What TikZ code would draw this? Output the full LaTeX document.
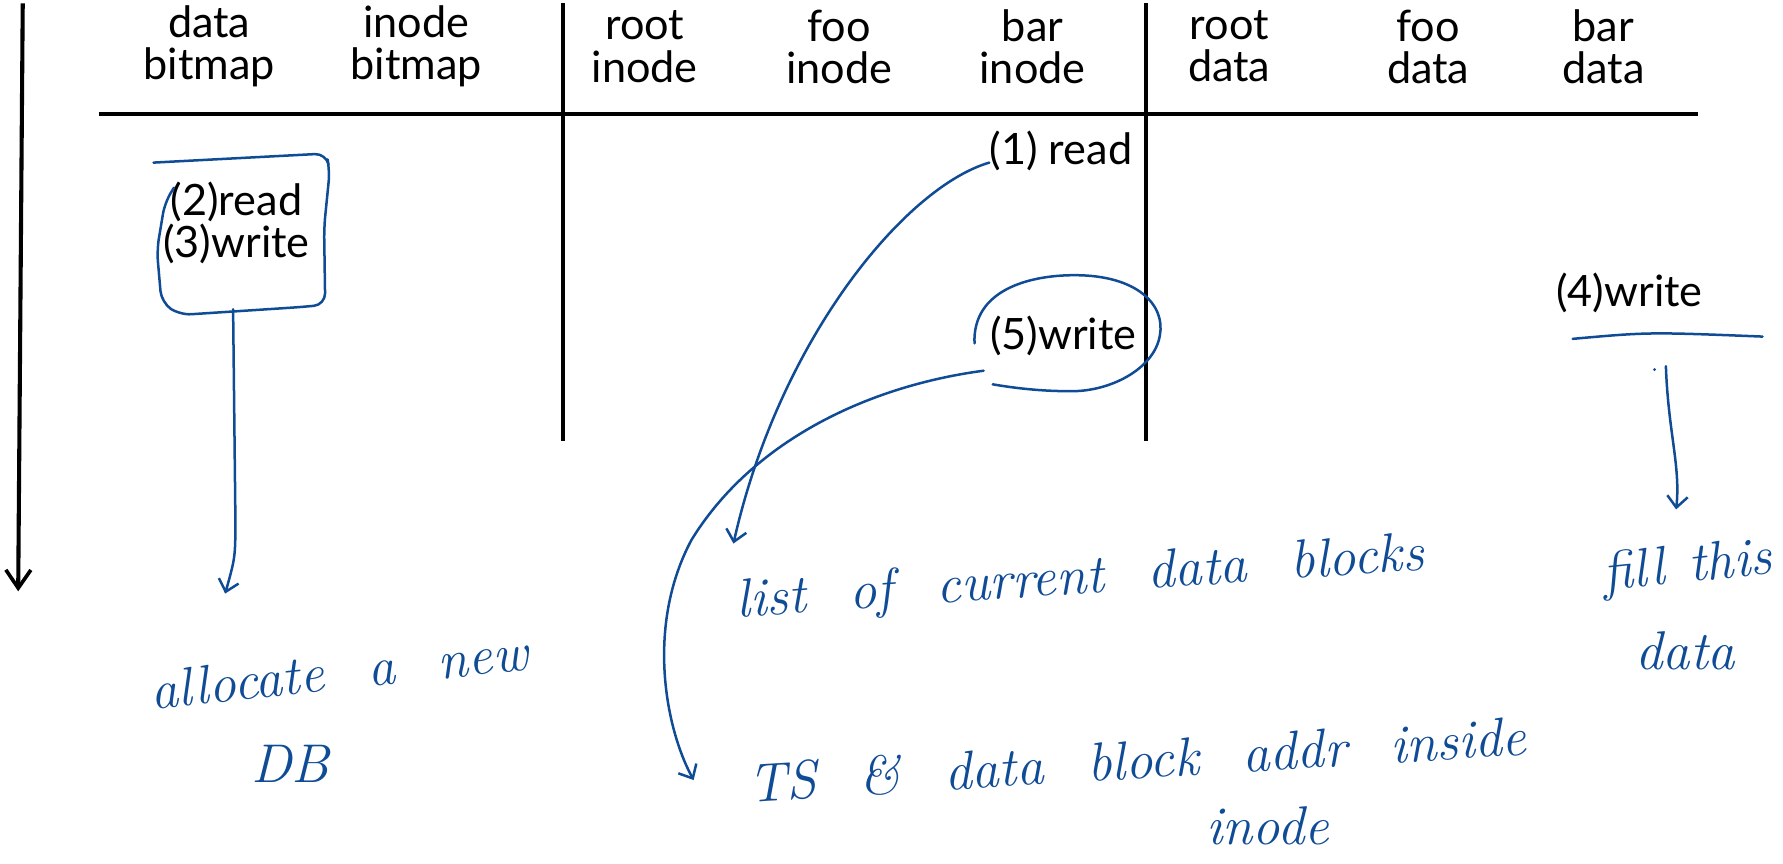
\documentclass[tikz,border=0pt]{standalone}
\usepackage{fontspec}
\newfontfamily\hdr{Lato}
\usetikzlibrary{arrows.meta}
\definecolor{ink}{RGB}{16,76,150}
\newcommand\wgap{\hspace{0.8em}}
\begin{document}
\begin{tikzpicture}[x=0.5pt,y=-0.5pt,
  hd/.style={font=\hdr\fontsize{19}{18.5}\selectfont, align=center, inner sep=0},
  lbl/.style={font=\hdr\fontsize{19}{18.5}\selectfont, inner sep=0},
  hw/.style={font=\itshape\fontsize{24}{26}\selectfont, text=ink, inner sep=0},
  rule/.style={line width=1.8pt, black},
  pen/.style={line width=1.1pt, draw=ink, line cap=round, line join=round},
  hand/.style={pen, -{Straight Barb[length=5pt,width=9pt]}}
]
\useasboundingbox (0,0) rectangle (1568,759);

% time axis and table rules
\coordinate (t0) at (20,3);
\coordinate (t1) at (16,520);
\draw[rule, -{Straight Barb[length=8pt,width=11pt,line width=1.6pt]}] (t0) -- (t1);
\coordinate (hl) at (87,100);
\coordinate (hr) at (1493,100);
\draw[rule] (hl) -- (hr);
\coordinate (d1t) at (495,3);  \coordinate (d1b) at (495,388);
\coordinate (d2t) at (1008,3); \coordinate (d2b) at (1008,388);
\draw[rule] (d1t) -- (d1b);
\draw[rule] (d2t) -- (d2b);

% headers
\node[hd] (h1) at (184,41) {data\\bitmap};
\node[hd] (h2) at (366,41) {inode\\bitmap};
\node[hd] (h3) at (567,41) {root\\inode};
\node[hd] (h4) at (738,41) {foo\\inode};
\node[hd] (h5) at (908,41) {bar\\inode};
\node[hd] (h6) at (1081,41) {root\\data};
\node[hd] (h7) at (1256,41) {foo\\data};
\node[hd] (h8) at (1410,41) {bar\\data};

% operation labels
\node[lbl] (op1) at (933,133) {(1) read};
\node[hd] (op23) at (208,196) {(2)read\\(3)write};
\node[lbl] (op5) at (935,295) {(5)write};
\node[lbl] (op4) at (1433,258) {(4)write};

% hand-drawn box around (2)/(3)
\draw[pen, rounded corners=5] (135,143) -- (287,135) -- (290,150) -- (285,200) -- (286,268) -- (265,270) -- (158,277) -- (142,266) -- (138,220) -- (145,178) -- (153,165);

% handwritten notes
\node[hw, rotate=6] (n1) at (298,590) {allocate\wgap a\wgap new};
\node[hw] (n1b) at (255,672) {DB};
\node[hw, rotate=4] (n2) at (950,510) {list\wgap of\wgap current\wgap data\wgap blocks};
\node[hw, rotate=3.5] (n3) at (1000,668) {TS\wgap \&\wgap data\wgap block\wgap addr\wgap inside};
\node[hw] (n3b) at (1115,726) {inode};
\node[hw, rotate=6] (n4) at (1484,500) {fill\hspace{0.45em}this};
\node[hw] (n4b) at (1482,572) {data};

% connectors
\coordinate (a1s) at (870,143);
\coordinate (a1e) at (645,478);
\draw[hand] (a1s) .. controls (795,165) and (685,300) .. (a1e);

\coordinate (e0) at (857,302);
\coordinate (e1) at (873,338);
\draw[pen] (e0) .. controls (855,255) and (905,242) .. (945,242)
  .. controls (1000,242) and (1025,268) .. (1020,295)
  .. controls (1015,325) and (975,345) .. (940,344)
  .. controls (910,344) and (885,340) .. (e1);
\coordinate (a5s) at (865,326);
\coordinate (a5m) at (608,475);
\coordinate (a5e) at (610,686);
\draw[hand] (a5s) .. controls (760,340) and (660,390) .. (a5m)
  .. controls (568,550) and (585,640) .. (a5e);

\coordinate (a2s) at (205,272);
\coordinate (a2m) at (207,455);
\coordinate (a2e) at (198,522);
\draw[hand] (a2s) -- (a2m) .. controls (207,490) .. (a2e);

\coordinate (u0) at (1383,298);
\coordinate (u1) at (1550,296);
\draw[pen] (u0) .. controls (1450,292) .. (u1);
\fill[ink] (1455,325) circle (1.4);
\coordinate (a4s) at (1465,322);
\coordinate (a4e) at (1474,448);
\draw[hand] (a4s) .. controls (1467,380) and (1478,410) .. (a4e);
\end{tikzpicture}
\end{document}
